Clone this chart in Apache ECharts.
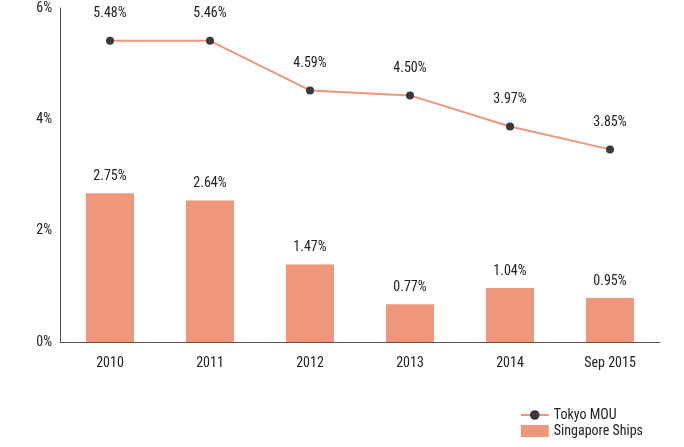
<!DOCTYPE html>
<html><head><meta charset="utf-8">
<script src="https://cdn.jsdelivr.net/npm/echarts@6/dist/echarts.min.js"></script>
<style>html,body{margin:0;padding:0;background:#fff}#c{width:684px;height:447px}</style>
</head><body><div id="c"></div>
<script>
const categories = ['2010','2011','2012','2013','2014','Sep 2015'];
const tokyoValues = [5.41,5.41,4.52,4.43,3.87,3.46];
const tokyoLabels = ['5.48%','5.46%','4.59%','4.50%','3.97%','3.85%'];
const singaporeValues = [2.67,2.54,1.39,0.68,0.97,0.79];
const singaporeLabels = ['2.75%','2.64%','1.47%','0.77%','1.04%','0.95%'];
const yTicks = [0,2,4,6];
const font = '"Liberation Sans Narrow","Roboto Condensed","Liberation Sans",sans-serif';
const chart = echarts.init(document.getElementById('c'));
chart.setOption({
  animation:false,
  textStyle:{fontFamily:font},
  grid:{left:60,right:24,top:8,bottom:105},
  legend:{orient:'vertical',right:36,bottom:4,itemGap:2,itemWidth:28,itemHeight:12,
    textStyle:{fontFamily:font,fontSize:14,color:'#222'},
    data:[{name:'Tokyo MOU'},{name:'Singapore Ships',icon:'rect'}]},
  xAxis:{type:'category',data:categories,axisTick:{show:false},
    axisLine:{lineStyle:{color:'#555'}},
    axisLabel:{fontFamily:font,fontSize:14,color:'#222',margin:14}},
  yAxis:{type:'value',min:0,max:6,interval:2,splitLine:{show:false},
    axisLine:{show:true,lineStyle:{color:'#555'}},
    axisLabel:{fontFamily:font,fontSize:14,color:'#222',formatter:v=>yTicks.includes(v)?v+'%':''}},
  series:[
    {name:'Singapore Ships',type:'bar',data:singaporeValues,barWidth:48,
      itemStyle:{color:'#F0967A'},
      label:{show:true,position:'top',distance:10,fontSize:14,color:'#222',fontFamily:font,
        formatter:p=>singaporeLabels[p.dataIndex]}},
    {name:'Tokyo MOU',type:'line',data:tokyoValues,symbol:'circle',symbolSize:8,
      lineStyle:{color:'#F0967A',width:2},itemStyle:{color:'#3a3a3a'},
      label:{show:true,position:'top',distance:16,fontSize:14,color:'#222',fontFamily:font,
        formatter:p=>tokyoLabels[p.dataIndex]}}
  ]
});
</script></body></html>
